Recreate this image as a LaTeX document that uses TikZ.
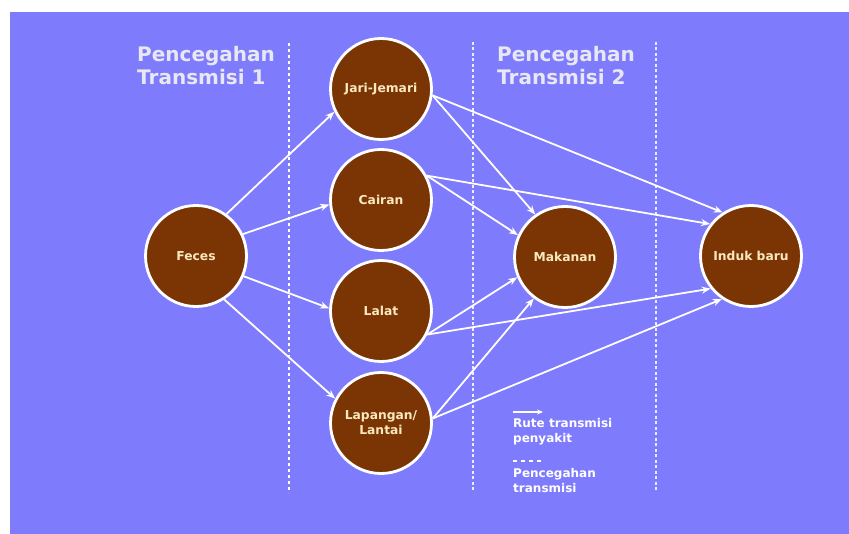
\documentclass[tikz,border=0pt]{standalone}
\usepackage{fontspec}
\setmainfont{DejaVu Sans}
\usetikzlibrary{arrows.meta}
\definecolor{bg}{HTML}{7F7BFD}
\definecolor{nodebrown}{HTML}{7B3504}
\definecolor{cream}{HTML}{FBE9BE}
\definecolor{titlegray}{HTML}{E8E8F2}
\begin{document}
\begin{tikzpicture}[x=1pt,y=-1pt,
  blob/.style={circle,draw=white,line width=2.8pt,fill=nodebrown,minimum size=101pt,inner sep=0pt,
    font=\bfseries\fontsize{12.3}{15}\selectfont,text=cream,align=center},
  arr/.style={draw=white,line width=1.8pt,-{Stealth[length=9pt,width=7pt]}},
  septhick/.style={draw=white,line width=2.2pt,dash pattern=on 3pt off 3pt},
  septhin/.style={draw=white!85!bg,line width=1.3pt,dash pattern=on 3pt off 2.5pt},
  title/.style={font=\bfseries\fontsize{20}{23}\selectfont,text=titlegray,align=left,anchor=north west,inner sep=0pt},
  legend/.style={font=\bfseries\fontsize{12}{15}\selectfont,text=white,align=left,anchor=north west,inner sep=0pt}]
\fill[white] (0,0) rectangle (849,534);
\fill[bg] (10,12) rectangle (849,534);
\useasboundingbox (0,0) rectangle (849,534);

% separators
\coordinate (s1a) at (289,43); \coordinate (s1b) at (289,493);
\coordinate (s2a) at (473,42); \coordinate (s2b) at (473,490);
\coordinate (s3a) at (656,42); \coordinate (s3b) at (656,490);
\draw[septhick] (s1a) -- (s1b);
\draw[septhin] (s2a) -- (s2b);
\draw[septhin] (s3a) -- (s3b);

% titles
\node[title] (t1) at (137,46) {Pencegahan\\Transmisi 1};
\node[title] (t2) at (497,46) {Pencegahan\\Transmisi 2};

% nodes
\node[blob] (feces) at (196,256) {Feces};
\node[blob] (jari) at (381,89) {Jari-Jemari};
\node[blob] (cairan) at (381,200) {Cairan};
\node[blob] (lalat) at (381,311) {Lalat};
\node[blob] (lapangan) at (381,423) {Lapangan/\\Lantai};
\node[blob] (makanan) at (565,257) {Makanan};
\node[blob] (induk) at (751,256) {Induk baru};

% arrows
\draw[arr] (feces.54) -- (jari.206);
\draw[arr] (feces.25) -- (cairan.185);
\draw[arr] (feces.-23) -- (lalat.177);
\draw[arr] (feces.-57) -- (lapangan.152);
\draw[arr] (jari.-7) -- (makanan.125);
\draw[arr] (jari.-7) -- (induk.123);
\draw[arr] (cairan.28) -- (makanan.155);
\draw[arr] (cairan.28) -- (induk.142);
\draw[arr] (lalat.-27) -- (makanan.203);
\draw[arr] (lalat.-27) -- (induk.219);
\draw[arr] (lapangan.5) -- (makanan.233);
\draw[arr] (lapangan.5) -- (induk.236);

% legend
\coordinate (la1) at (513,412); \coordinate (la2) at (543,412);
\draw[draw=white,line width=1.3pt,-{Stealth[length=6pt,width=5pt]}] (la1) -- (la2);
\node[legend] (l1) at (513,418) {Rute transmisi\\penyakit};
\coordinate (ld1) at (513,461); \coordinate (ld2) at (541,461);
\draw[draw=white,line width=1.6pt,dash pattern=on 4pt off 4pt] (ld1) -- (ld2);
\node[legend] (l2) at (513,468) {Pencegahan\\transmisi};
\end{tikzpicture}
\end{document}
